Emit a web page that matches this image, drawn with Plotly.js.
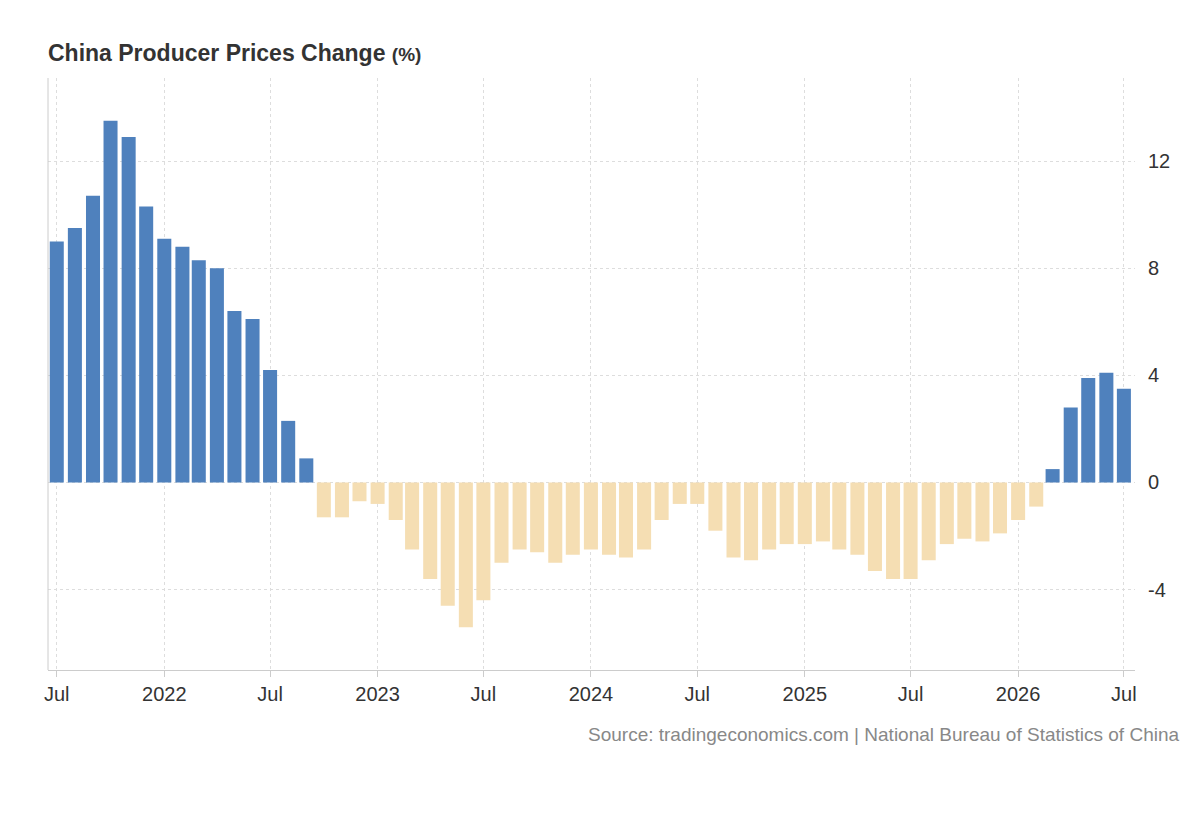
<!DOCTYPE html>
<html><head><meta charset="utf-8">
<script src="https://cdn.plot.ly/plotly-3.0.1.min.js"></script>
<style>body{margin:0;background:#fff}#c{width:1200px;height:820px}</style>
</head><body><div id="c"></div>
<script>
const startYear = 2021, startMonth = 7;
const values = [9.0,9.5,10.7,13.5,12.9,10.3,9.1,8.8,8.3,8.0,6.4,6.1,4.2,2.3,0.9,-1.3,-1.3,-0.7,-0.8,-1.4,-2.5,-3.6,-4.6,-5.4,-4.4,-3.0,-2.5,-2.6,-3.0,-2.7,-2.5,-2.7,-2.8,-2.5,-1.4,-0.8,-0.8,-1.8,-2.8,-2.9,-2.5,-2.3,-2.3,-2.2,-2.5,-2.7,-3.3,-3.6,-3.6,-2.9,-2.3,-2.1,-2.2,-1.9,-1.4,-0.9,0.5,2.8,3.9,4.1,3.5];
const tickVals = ['2021-07-01','2022-01-01','2022-07-01','2023-01-01','2023-07-01','2024-01-01','2024-07-01','2025-01-01','2025-07-01','2026-01-01','2026-07-01'];
const tickText = ['Jul','2022','Jul','2023','Jul','2024','Jul','2025','Jul','2026','Jul'];
const yTicks = [-4,0,4,8,12];
const yTickText = ['-4','0','4','8','12'];

const dates = values.map((v,i)=>{const m=startMonth-1+i;const y=startYear+Math.floor(m/12);return y+'-'+String(m%12+1).padStart(2,'0')+'-01';});
const colors = values.map(v=>v>=0?'#4f81bd':'#f5deb3');

Plotly.newPlot('c',[{type:'bar',x:dates,y:values,marker:{color:colors},width:values.map(()=>24*86400000),hoverinfo:'x+y'}],{
  width:1200,height:820,paper_bgcolor:'#fff',plot_bgcolor:'#fff',
  margin:{l:48,r:65,t:78,b:150},
  title:{text:'<b>China Producer Prices Change</b> <b style="font-size:19px">(%)</b>',x:0.04,xanchor:'left',y:0.945,font:{family:'Arial, Liberation Sans',size:23,color:'#333'}},
  xaxis:{type:'date',range:['2021-06-16','2026-07-20'],tickvals:tickVals,ticktext:tickText,tickfont:{family:'Arial, Liberation Sans',size:20,color:'#333'},
    showgrid:true,gridcolor:'#ddd',griddash:'dot',showline:true,linecolor:'#ccc',ticks:'outside',ticklen:6,tickcolor:'#ccc',zeroline:false},
  yaxis:{side:'right',range:[-7,15.1],tickvals:yTicks,ticktext:yTickText,tickfont:{family:'Arial, Liberation Sans',size:20,color:'#333'},
    showgrid:true,gridcolor:'#ddd',griddash:'dot',zeroline:false,ticks:'outside',ticklen:8,tickcolor:'#fff',showline:false},
  shapes:[{type:'line',xref:'paper',yref:'paper',x0:0,x1:0,y0:0,y1:1,line:{color:'#ccc',width:1}}],
  annotations:[{text:'Source: tradingeconomics.com | National Bureau of Statistics of China',xref:'paper',yref:'paper',x:1.042,y:-0.088,xanchor:'right',yanchor:'top',showarrow:false,font:{family:'Arial, Liberation Sans',size:19,color:'#888'}}],
  showlegend:false,bargap:0.15
},{displayModeBar:false});
</script></body></html>
